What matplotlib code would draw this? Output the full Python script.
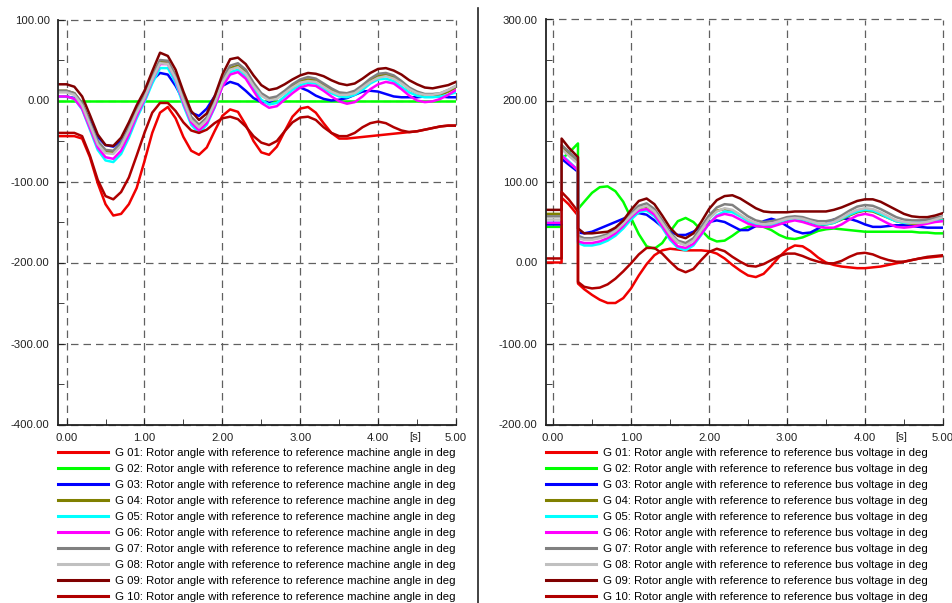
import numpy as np
import matplotlib.pyplot as plt
from matplotlib.lines import Line2D
from matplotlib.ticker import MultipleLocator, FormatStrFormatter

plt.rcParams['font.family'] = ['Liberation Sans', 'DejaVu Sans']

# ---- data ----
# left: rotor angle vs reference machine angle, t = -0.1 .. 5.0 s (0.1 s steps)
t_left = np.round(np.arange(-0.1, 5.001, 0.1), 2)

left_g01 = [-44, -44, -44, -47, -70, -102, -128, -142, -140, -128, -108, -75, -40, -15, -8, -22, -45, -62, -67, -58,
            -38, -19, -11, -14, -30, -50, -64, -67, -57, -38, -20, -10, -8, -15, -28, -40, -47, -47, -46, -45,
            -44, -43, -42, -41, -40, -39, -38, -36, -34, -32, -31, -31]
left_g02 = [0] * 52
left_g03 = [5, 5, 3, -6, -25, -45, -55, -57, -50, -33, -12, 8, 25, 34, 32, 18, 0, -15, -19, -10,
            5, 18, 23, 20, 12, 3, -2, -2, 3, 10, 15, 16, 12, 6, 2, 0, 1, 3, 7, 11,
            12, 11, 8, 5, 4, 4, 4, 5, 5, 5, 4, 4]
left_g04 = [12, 12, 9, -4, -28, -52, -63, -64, -54, -35, -13, 5, 28, 48, 47, 29, 2, -22, -31, -22,
            -2, 24, 40, 43, 35, 20, 7, 1, 3, 10, 18, 24, 26, 25, 19, 13, 8, 7, 10, 17,
            25, 30, 32, 29, 22, 14, 9, 6, 6, 7, 11, 16]
left_g05 = [5, 5, 2, -11, -36, -61, -74, -76, -66, -46, -22, -2, 21, 40, 40, 22, -6, -30, -40, -30,
            -9, 18, 35, 38, 30, 15, 1, -5, -3, 5, 13, 19, 22, 21, 15, 9, 5, 4, 7, 13,
            21, 26, 27, 24, 17, 10, 6, 4, 4, 5, 7, 10]
left_g06 = [5, 5, 2, -10, -34, -58, -70, -72, -62, -42, -19, 1, 25, 45, 45, 26, -3, -27, -37, -28,
            -8, 17, 32, 35, 27, 12, -3, -9, -7, 1, 9, 16, 19, 18, 12, 5, -1, -4, -2, 5,
            14, 20, 23, 21, 14, 6, 0, -2, -1, 2, 7, 13]
left_g07 = [12, 12, 9, -3, -27, -50, -61, -62, -52, -33, -11, 7, 30, 50, 49, 31, 4, -20, -30, -21,
            0, 26, 43, 46, 38, 22, 9, 3, 5, 12, 20, 26, 29, 27, 21, 15, 10, 9, 12, 19,
            27, 33, 34, 31, 24, 16, 11, 8, 8, 9, 13, 18]
left_g08 = [10, 10, 7, -6, -30, -54, -65, -66, -56, -37, -15, 3, 26, 46, 45, 27, 0, -24, -33, -24,
            -4, 22, 38, 41, 33, 18, 6, 0, 2, 9, 16, 22, 24, 23, 17, 11, 7, 7, 9, 16,
            23, 28, 30, 27, 21, 14, 9, 7, 7, 9, 13, 18]
left_g09 = [20, 20, 17, 5, -18, -42, -55, -56, -46, -27, -6, 12, 36, 59, 55, 38, 11, -13, -24, -16,
            5, 32, 51, 53, 45, 31, 19, 13, 15, 20, 26, 31, 34, 33, 30, 25, 21, 19, 21, 27,
            34, 39, 40, 37, 32, 25, 20, 16, 15, 17, 19, 23]
left_g10 = [-40, -40, -40, -44, -68, -98, -118, -122, -113, -95, -68, -40, -15, -3, -3, -13, -27, -37, -40, -36,
            -28, -22, -20, -23, -32, -44, -52, -55, -50, -38, -27, -21, -20, -24, -33, -40, -44, -44, -40, -33,
            -28, -26, -28, -33, -37, -39, -38, -36, -34, -32, -31, -31]

# right: rotor angle vs reference bus voltage, fault steps at ~0.11 s and ~0.32 s
t_right = [-0.1, 0.0, 0.11, 0.11, 0.2, 0.32, 0.32] + list(np.round(np.arange(0.4, 5.001, 0.1), 2))

right_g01 = [0, 0, 0, 80, 72, 58, -26,
             -33, -40, -46, -50, -50, -44, -32, -16, -2, 9, 15, 17, 16, 15, 15, 15, 14,
             11, 5, -3, -10, -16, -18, -14, -4, 7, 16, 21, 20, 14, 6, 0, -3, -5, -6, -7, -7,
             -6, -5, -3, -1, 1, 3, 5, 6, 7, 8]
right_g02 = [44, 44, 44, 128, 135, 147, 66,
             75, 86, 93, 94, 88, 75, 55, 35, 20, 17, 24, 38, 51, 55, 50, 40, 30,
             26, 27, 33, 40, 44, 45, 44, 40, 34, 30, 29, 31, 35, 39, 41, 42, 41, 40, 39, 38,
             38, 38, 38, 38, 38, 38, 37, 37, 36, 36]
right_g03 = [47, 47, 47, 128, 121, 112, 37,
             36, 38, 42, 46, 50, 54, 58, 61, 59, 52, 44, 38, 34, 34, 38, 44, 50,
             52, 50, 45, 40, 40, 45, 51, 54, 51, 45, 39, 36, 37, 42, 48, 53, 54, 54, 51, 47,
             44, 44, 45, 46, 46, 45, 44, 43, 43, 43]
right_g04 = [60, 60, 60, 142, 134, 123, 31,
             29, 29, 31, 34, 39, 48, 58, 67, 69, 63, 49, 35, 25, 22, 28, 41, 55,
             64, 66, 64, 58, 52, 48, 46, 47, 49, 52, 53, 52, 49, 47, 47, 49, 53, 58, 62, 64,
             63, 59, 55, 51, 49, 48, 48, 49, 51, 54]
right_g05 = [49, 49, 49, 133, 125, 114, 24,
             21, 21, 23, 27, 33, 42, 53, 62, 64, 57, 43, 28, 18, 15, 21, 34, 48,
             58, 63, 62, 57, 51, 47, 45, 46, 50, 53, 54, 53, 50, 47, 47, 49, 54, 59, 63, 65,
             64, 60, 55, 51, 49, 49, 50, 50, 51, 52]
right_g06 = [49, 49, 49, 132, 124, 114, 26,
             24, 24, 26, 30, 36, 45, 56, 64, 66, 59, 45, 30, 20, 18, 23, 35, 48,
             57, 60, 58, 53, 48, 45, 44, 44, 47, 50, 52, 50, 47, 44, 43, 43, 47, 53, 58, 60,
             58, 53, 48, 44, 43, 44, 46, 48, 50, 51]
right_g07 = [57, 57, 57, 145, 137, 126, 33,
             30, 30, 32, 35, 41, 50, 61, 70, 73, 66, 52, 37, 27, 24, 30, 44, 58,
             68, 72, 71, 64, 57, 52, 50, 51, 53, 56, 57, 56, 53, 51, 51, 53, 58, 64, 69, 71,
             70, 66, 61, 56, 53, 52, 52, 53, 55, 57]
right_g08 = [53, 53, 53, 140, 132, 122, 30,
             28, 28, 30, 33, 39, 48, 58, 67, 70, 63, 49, 35, 25, 21, 27, 40, 54,
             63, 67, 65, 59, 53, 49, 47, 48, 51, 54, 55, 54, 51, 48, 48, 50, 55, 61, 65, 67,
             66, 62, 57, 52, 50, 49, 49, 50, 53, 56]
right_g09 = [65, 65, 65, 153, 142, 130, 42,
             36, 36, 37, 38, 43, 52, 65, 76, 79, 72, 58, 43, 33, 30, 36, 50, 66,
             77, 82, 83, 79, 73, 67, 63, 62, 62, 62, 63, 63, 63, 63, 63, 65, 68, 72, 76, 78,
             78, 75, 70, 65, 60, 57, 56, 56, 58, 61]
right_g10 = [5, 5, 5, 87, 78, 63, -24,
             -30, -32, -31, -27, -20, -11, -1, 10, 18, 18, 11, 1, -8, -12, -8, 3, 13,
             17, 14, 7, 1, -4, -5, -2, 3, 8, 11, 11, 8, 4, 1, -1, -1, 2, 7, 11, 12,
             10, 6, 3, 1, 1, 3, 5, 7, 8, 9]

names = ["G 01", "G 02", "G 03", "G 04", "G 05", "G 06", "G 07", "G 08", "G 09", "G 10"]
colors = ["#f00000", "#00ff00", "#0000ff", "#808000", "#00ffff",
          "#ff00ff", "#808080", "#c0c0c0", "#800000", "#b00000"]

left_series = [left_g01, left_g02, left_g03, left_g04, left_g05,
               left_g06, left_g07, left_g08, left_g09, left_g10]
right_series = [right_g01, right_g02, right_g03, right_g04, right_g05,
                right_g06, right_g07, right_g08, right_g09, right_g10]

W, H = 953, 603
fig = plt.figure(figsize=(W / 100, H / 100), dpi=100)

def px(x0, y0, x1, y1):
    # axes rect from pixel box
    return [x0 / W, 1 - y1 / H, (x1 - x0) / W, (y1 - y0) / H]

ax1 = fig.add_axes(px(58, 19.5, 456, 424.5))
ax2 = fig.add_axes(px(546, 19.5, 943, 424.5))


def style(ax, xlim, ylim, suffix, series, t):
    for name, c, y in zip(names, colors, series):
        ax.plot(t, y, color=c, lw=1.8, label=name + ": Rotor angle with reference to reference " + suffix + " in deg",
                solid_joinstyle='round')
    ax.set_xlim(*xlim)
    ax.set_ylim(*ylim)
    ax.xaxis.set_major_locator(MultipleLocator(1))
    ax.xaxis.set_minor_locator(MultipleLocator(0.5))
    ax.yaxis.set_major_locator(MultipleLocator(100))
    ax.yaxis.set_minor_locator(MultipleLocator(50))
    ax.xaxis.set_major_formatter(FormatStrFormatter('%.2f'))
    ax.yaxis.set_major_formatter(FormatStrFormatter('%.2f'))
    ax.grid(True, which='major', color='#606060', lw=0.9, ls=(0, (6, 4)))
    ax.set_axisbelow(True)
    for gl in ax.get_xgridlines() + ax.get_ygridlines():
        gl.set_clip_on(False)
    for s in ('top', 'right'):
        ax.spines[s].set_visible(False)
    for s in ('left', 'bottom'):
        ax.spines[s].set_linewidth(1.3)
        ax.spines[s].set_color('#222222')
    ax.tick_params(which='both', direction='in', labelsize=8.2, labelcolor='#222222', color='#222222')
    ax.tick_params(which='major', length=4, pad=6)
    ax.tick_params(which='minor', length=4)
    ax.text(4.47, -0.03, "[s]", transform=ax.get_xaxis_transform(), ha='center', va='center',
            fontsize=8.2, color='#222222')
    leg = ax.legend(loc='upper left', bbox_to_anchor=(0, -0.057), frameon=False, fontsize=8.2,
                    borderpad=0, borderaxespad=0, handlelength=4.4, handletextpad=0.6,
                    labelspacing=0.53)
    for h in leg.get_lines():
        h.set_linewidth(2.2)


style(ax1, (-0.11, 5.0), (-400, 100), "machine angle", left_series, t_left)
style(ax2, (-0.09, 5.0), (-200, 300), "bus voltage", right_series, t_right)

# separator between the two panels
fig.add_artist(Line2D([478 / W, 478 / W], [0, 1 - 8 / H], color='#222222', lw=1.2))

fig.savefig("out.png", dpi=100)
